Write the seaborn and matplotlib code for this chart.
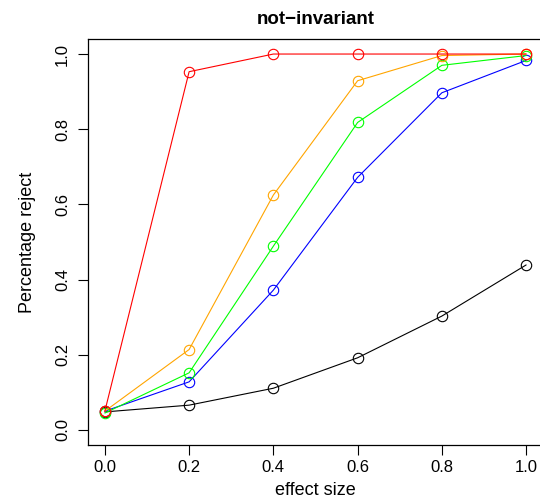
import matplotlib
matplotlib.use("Agg")
import matplotlib.pyplot as plt
import seaborn as sns
import pandas as pd

effect = [0.0, 0.2, 0.4, 0.6, 0.8, 1.0]
series_names = ["black", "blue", "green", "orange", "red"]
black_vals = [0.048, 0.066, 0.111, 0.192, 0.303, 0.439]
blue_vals = [0.050, 0.128, 0.372, 0.672, 0.897, 0.983]
green_vals = [0.045, 0.152, 0.489, 0.818, 0.970, 0.996]
orange_vals = [0.050, 0.214, 0.625, 0.929, 0.996, 1.000]
red_vals = [0.050, 0.953, 1.000, 1.000, 1.000, 1.000]
colors = ["#000000", "#0000FF", "#00FF00", "#FFA500", "#FF0000"]
xticks = [0.0, 0.2, 0.4, 0.6, 0.8, 1.0]
yticks = [0.0, 0.2, 0.4, 0.6, 0.8, 1.0]

sns.set_theme(style="white")
plt.rcParams["font.family"] = ["Liberation Sans", "DejaVu Sans"]

rows = []
for name, vals in zip(series_names, [black_vals, blue_vals, green_vals, orange_vals, red_vals]):
    for x, y in zip(effect, vals):
        rows.append({"effect": x, "value": y, "series": name})
df = pd.DataFrame(rows)

fig = plt.figure(figsize=(5.40, 4.99), dpi=100)
ax = fig.add_axes([88/540, 1-445/499, (543-88)/540, (445-39)/499])

for name, c in zip(series_names, colors):
    sub = df[df["series"] == name]
    sns.lineplot(data=sub, x="effect", y="value", ax=ax, color=c, marker="o",
                 markersize=7.5, mfc="none", mec=c, mew=0.8, linewidth=0.8,
                 legend=False)

ax.set_xlim(-0.04, 1.04)
ax.set_ylim(-0.04, 1.04)
ax.set_xticks(xticks)
ax.set_yticks(yticks)
ax.set_xticklabels([f"{t:.1f}" for t in xticks], fontsize=12)
ax.set_yticklabels([f"{t:.1f}" for t in yticks], fontsize=12, rotation=90, va="center")
ax.tick_params(axis="both", direction="out", length=7, width=0.8, color="black",
               left=True, bottom=True, labelcolor="black")
ax.tick_params(axis="x", pad=4)
ax.tick_params(axis="y", pad=6)
for s in ax.spines.values():
    s.set_visible(True)
    s.set_color("black")
    s.set_linewidth(0.9)
ax.set_xlabel("effect size", fontsize=13, labelpad=5, color="black")
ax.set_ylabel("Percentage reject", fontsize=13, labelpad=14, color="black")
ax.set_title("not\u2212invariant", fontsize=13.5, fontweight="bold", pad=11, color="black")
ax.grid(False)

fig.savefig("out.png", dpi=100)
